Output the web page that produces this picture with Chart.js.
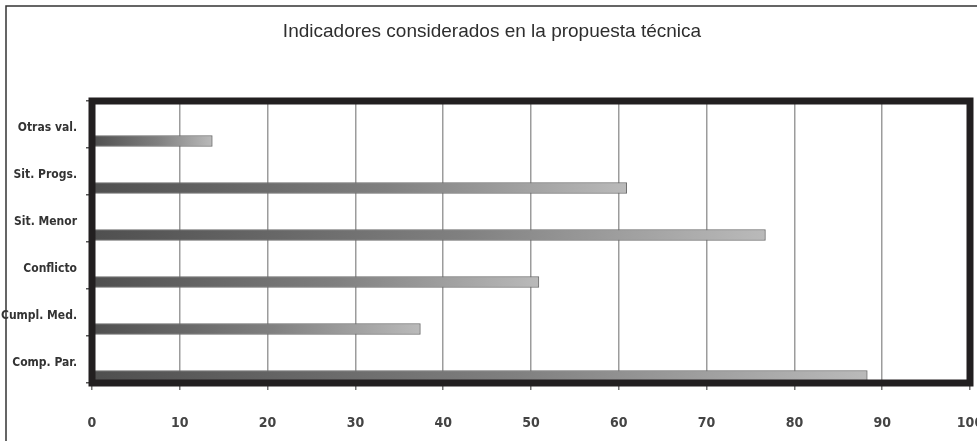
<!DOCTYPE html>
<html>
<head>
<meta charset="utf-8">
<script src="https://cdn.jsdelivr.net/npm/chart.js@4/dist/chart.umd.min.js"></script>
<style>
  html, body { margin: 0; padding: 0; background: #fff; }
  #wrap { width: 977px; height: 441px; }
</style>
</head>
<body>
<div id="wrap"><canvas id="chart" width="977" height="441"></canvas></div>
<script>
const categories = ['Otras val.', 'Sit. Progs.', 'Sit. Menor', 'Conflicto', 'Cumpl. Med.', 'Comp. Par.'];
const values = [13.7, 60.9, 76.7, 50.9, 37.4, 88.3];
const xTicks = [0, 10, 20, 30, 40, 50, 60, 70, 80, 90, 100];
const chartTitle = 'Indicadores considerados en la propuesta técnica';

// pick a condensed face if one is installed
function hasFont(name) {
  const c = document.createElement('canvas').getContext('2d');
  const s = 'Cumpl. Med. 0123456789';
  c.font = 'bold 20px monospace';
  const a = c.measureText(s).width;
  c.font = `bold 20px '${name}', monospace`;
  const b = c.measureText(s).width;
  c.font = 'bold 20px serif';
  const d = c.measureText(s).width;
  c.font = `bold 20px '${name}', serif`;
  const e = c.measureText(s).width;
  return a !== b || d !== e;
}
let labelFamily = "'Liberation Sans', Arial, sans-serif";
let labelSize = 13;
if (hasFont('Liberation Sans Narrow')) {
  labelFamily = "'Liberation Sans Narrow', sans-serif"; labelSize = 15;
} else if (hasFont('DejaVu Sans Condensed')) {
  labelFamily = "'DejaVu Sans Condensed', sans-serif"; labelSize = 12;
}

// bar fill: dark on the left, lighter towards the end of each bar
function barFill(ctx) {
  const chart = ctx.chart;
  if (!chart.chartArea || ctx.type !== 'data') return '#8a8a8a';
  const x = chart.scales.x;
  const x0 = x.getPixelForValue(0);
  const x1 = x.getPixelForValue(ctx.raw);
  const g = chart.ctx.createLinearGradient(x0, 0, x1, 0);
  g.addColorStop(0, '#4f4f4f');
  g.addColorStop(0.55, '#808080');
  g.addColorStop(1, '#bababa');
  return g;
}

// outer page frame + thick plot frame
const frames = {
  id: 'frames',
  afterLayout(chart) {
    // let the category labels use the space left of the padding
    const y = chart.scales.y;
    y.left = 0;
    y.width = y.right;
  },
  beforeDraw(chart) {
    const c = chart.ctx;
    c.save();
    c.strokeStyle = '#333';
    c.lineWidth = 1.5;
    c.beginPath();
    c.moveTo(6, chart.height);
    c.lineTo(6, 6);
    c.lineTo(chart.width, 6);
    c.stroke();
    c.restore();
  },
  afterDraw(chart) {
    const a = chart.chartArea;
    const c = chart.ctx;
    c.save();
    c.strokeStyle = '#221f20';
    c.lineWidth = 7;
    c.strokeRect(a.left, a.top, a.right - a.left, a.bottom - a.top);
    c.restore();
  }
};

// spacer datasets push the real bar to the bottom of each category band
const spacer = () => ({ label: '', data: [], backgroundColor: 'rgba(0,0,0,0)' });

new Chart(document.getElementById('chart'), {
  type: 'bar',
  data: {
    labels: categories,
    datasets: [spacer(), spacer(), spacer(), {
      label: 'Indicadores',
      data: values,
      backgroundColor: barFill,
      borderColor: '#6d6d6d',
      borderWidth: 1,
      borderSkipped: false
    }]
  },
  options: {
    indexAxis: 'y',
    responsive: false,
    animation: false,
    datasets: { bar: { barThickness: 11 } },
    layout: { padding: { left: 14, right: 7, top: 0, bottom: 0 } },
    plugins: {
      legend: { display: false },
      tooltip: { enabled: false },
      title: {
        display: true,
        text: chartTitle,
        color: '#2e2e2e',
        font: { family: "'Liberation Sans', Arial, sans-serif", size: 19, weight: 'normal', lineHeight: 1.2 },
        padding: { top: 20, bottom: 58.2 }
      }
    },
    scales: {
      x: {
        min: 0,
        max: 100,
        afterBuildTicks: s => { s.ticks = xTicks.map(v => ({ value: v })); },
        afterFit: s => { s.height = 58; s.paddingLeft = 0; s.paddingRight = 0; },
        border: { display: false },
        grid: { color: '#9c9c9c', lineWidth: 1.5, tickLength: 7, tickColor: '#777' },
        ticks: {
          padding: 25,
          color: '#444',
          font: { family: labelFamily, size: labelSize + 2, weight: 'bold' }
        }
      },
      y: {
        afterFit: s => { s.width = 78; s.paddingTop = 0; s.paddingBottom = 0; },
        border: { display: false },
        grid: { drawOnChartArea: false, tickLength: 6, color: '#555', lineWidth: 1.5 },
        ticks: {
          padding: 9,
          labelOffset: 3,
          color: '#333',
          font: { family: labelFamily, size: labelSize, weight: 'bold' }
        }
      }
    }
  },
  plugins: [frames]
});
</script>
</body>
</html>
